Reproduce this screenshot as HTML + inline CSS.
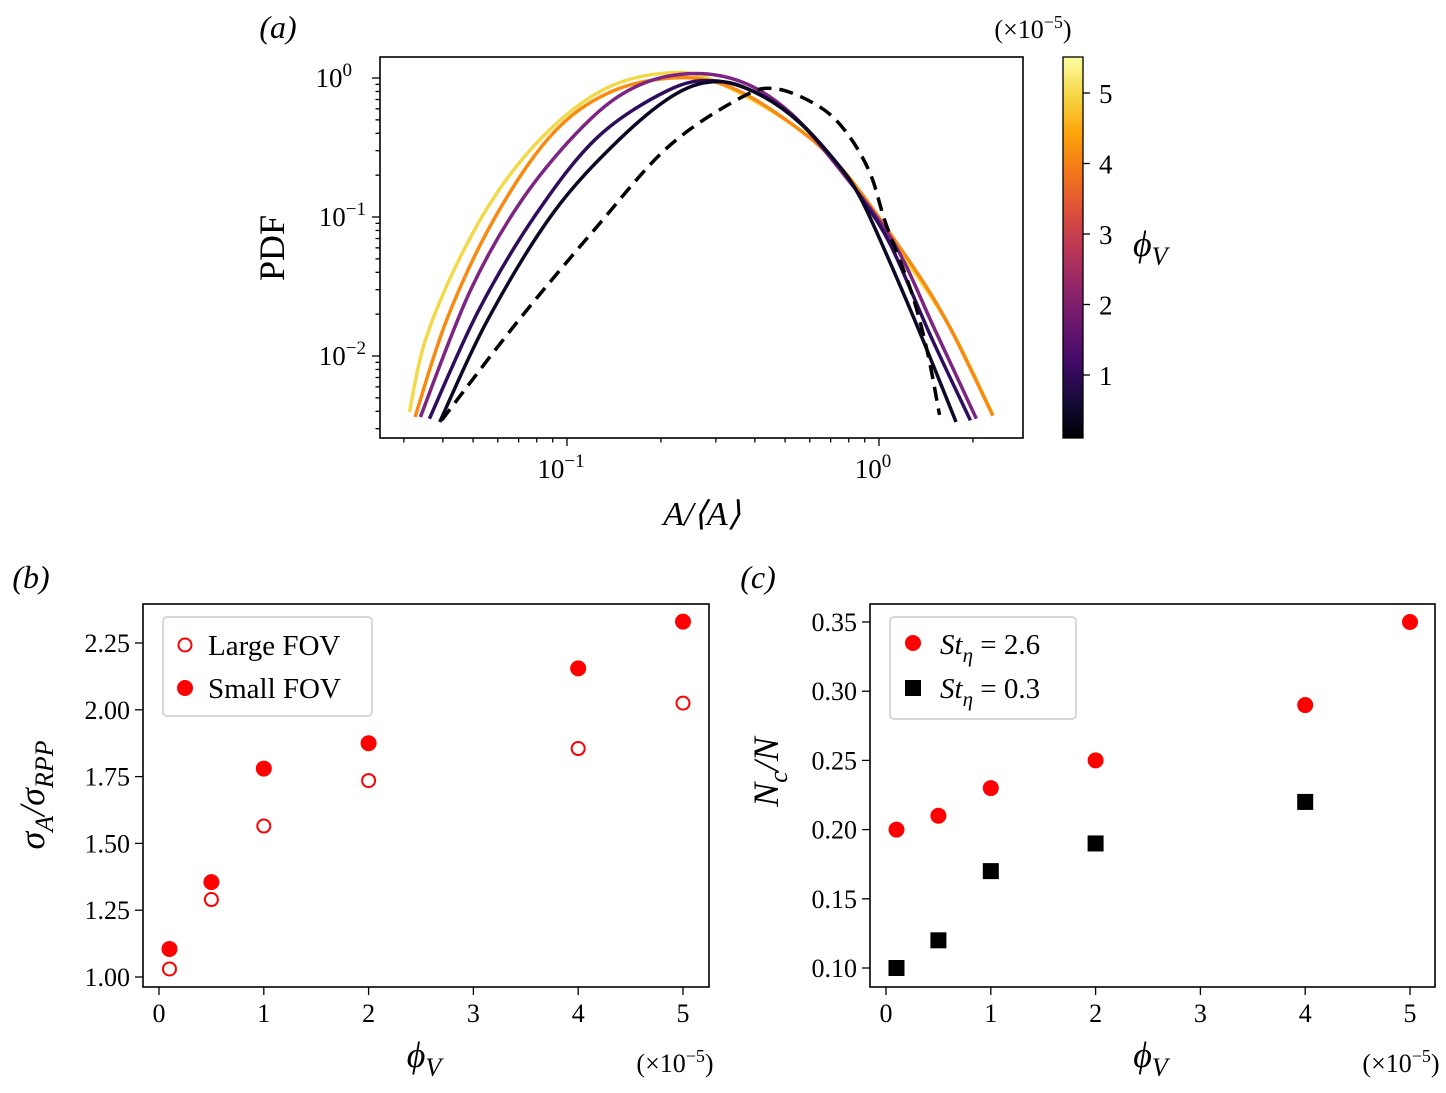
<!DOCTYPE html>
<html><head><meta charset="utf-8"><style>
body{margin:0;background:#fff}
svg{display:block;font-family:"Liberation Serif",serif}
</style></head><body>
<svg id="fig" width="1446" height="1093" viewBox="0 0 1446 1093" xmlns="http://www.w3.org/2000/svg">
<defs>
<linearGradient id="inferno" x1="0" y1="1" x2="0" y2="0">
<stop offset="0" stop-color="#000004"/><stop offset="0.1" stop-color="#160b39"/><stop offset="0.2" stop-color="#420a68"/><stop offset="0.3" stop-color="#6a176e"/><stop offset="0.4" stop-color="#932667"/><stop offset="0.5" stop-color="#bc3754"/><stop offset="0.6" stop-color="#dd513a"/><stop offset="0.7" stop-color="#f37819"/><stop offset="0.8" stop-color="#fca50a"/><stop offset="0.9" stop-color="#f6d746"/><stop offset="1" stop-color="#fcffa4"/>
</linearGradient>
</defs>
<g id="pa"></g>
<g id="pb"></g>
<g id="pc"></g>
</svg>
<script>
// ---- Panel (a) data (log10 values) ----
const curveLabels = ["phi-5","phi-4","phi-2","phi-1","phi-0.1","random-poisson"];
const curveColors = ["#f2d94a","#f88a12","#7e2482","#2e0d5c","#0c0826","#000"];
const logA_5 = [-1.505,-1.454,-1.342,-1.204,-1.046,-0.877,-0.703,-0.545,-0.281,-0.115,0.049,0.221,0.365];
const logP_5 = [-2.403,-1.887,-1.288,-0.760,-0.353,-0.077,0.031,-0.005,-0.329,-0.664,-1.192,-1.768,-2.424];
const logA_4 = [-1.487,-1.382,-1.230,-1.046,-0.861,-0.650,-0.478,-0.281,-0.115,0.088,0.221,0.365];
const logP_4 = [-2.439,-1.719,-1.0,-0.401,-0.101,0.002,-0.065,-0.329,-0.664,-1.288,-1.768,-2.43];
const logA_2 = [-1.470,-1.309,-1.138,-0.940,-0.782,-0.611,-0.439,-0.281,-0.115,0.049,0.180,0.312];
const logP_2 = [-2.439,-1.525,-0.856,-0.329,-0.065,0.031,-0.029,-0.257,-0.688,-1.192,-1.815,-2.451];
const logA_1 = [-1.441,-1.283,-1.098,-0.901,-0.676,-0.530,-0.381,-0.253,-0.125,-0.061,0.035,0.167,0.293];
const logP_1 = [-2.451,-1.671,-0.976,-0.424,-0.089,-0.020,-0.118,-0.320,-0.640,-0.850,-1.192,-1.863,-2.463];
const logA_01 = [-1.408,-1.255,-1.046,-0.835,-0.650,-0.510,-0.381,-0.253,-0.125,-0.061,0.009,0.128,0.247];
const logP_01 = [-2.475,-1.743,-0.976,-0.448,-0.113,-0.026,-0.122,-0.324,-0.640,-0.856,-1.192,-1.815,-2.475];
const logA_rpp = [-1.402,-1.164,-0.914,-0.676,-0.439,-0.327,-0.189,-0.103,-0.029,0.022,0.102,0.154,0.194];
const logP_rpp = [-2.463,-1.768,-1.096,-0.496,-0.137,-0.079,-0.209,-0.396,-0.683,-1.048,-1.527,-1.959,-2.424];
const cbTicks = [1,2,3,4,5];
// ---- Panel (b) data ----
const phiB = [0.1,0.5,1,2,4,5];
const largeFOV = [1.03,1.29,1.565,1.735,1.855,2.025];
const smallFOV = [1.105,1.355,1.78,1.875,2.155,2.33];
const bYTicks = ["1.00","1.25","1.50","1.75","2.00","2.25"];
// ---- Panel (c) data ----
const phiC1 = [0.1,0.5,1,2,4,5];
const st26 = [0.20,0.21,0.23,0.25,0.29,0.35];
const phiC2 = [0.1,0.5,1,2,4];
const st03 = [0.10,0.12,0.17,0.19,0.22];
const cYTicks = ["0.10","0.15","0.20","0.25","0.30","0.35"];
const xTicks = [0,1,2,3,4,5];

const NS="http://www.w3.org/2000/svg";
function mk(parent,tag,attrs,text){const e=document.createElementNS(NS,tag);for(const k in attrs)e.setAttribute(k,attrs[k]);if(text!==undefined)e.textContent=text;parent.appendChild(e);return e;}

// ===== Panel A =====
const pa=document.getElementById('pa');
const aL=380,aR=1023,aT=57,aB=438;
const ax=lx=>879+312*lx, ay=ly=>78-139*ly;
const series=[[logA_5,logP_5],[logA_4,logP_4],[logA_2,logP_2],[logA_1,logP_1],[logA_01,logP_01],[logA_rpp,logP_rpp]];
series.forEach((s,i)=>{
  const pts=s[0].map((v,j)=>[ax(v),ay(s[1][j])]);
  let d="M"+pts[0][0]+","+pts[0][1];
  for(let j=0;j<pts.length-1;j++){const p0=pts[Math.max(0,j-1)],p1=pts[j],p2=pts[j+1],p3=pts[Math.min(pts.length-1,j+2)];
    d+=` C${p1[0]+(p2[0]-p0[0])/6},${p1[1]+(p2[1]-p0[1])/6} ${p2[0]-(p3[0]-p1[0])/6},${p2[1]-(p3[1]-p1[1])/6} ${p2[0]},${p2[1]}`;}
  const p=mk(pa,'path',{d:d,fill:'none',stroke:curveColors[i],'stroke-width':3.5,'stroke-dasharray':i==5?'14,8':'none'});
  
  
});
mk(pa,'rect',{x:aL,y:aT,width:aR-aL,height:aB-aT,fill:'none',stroke:'#000','stroke-width':1.6,});
for(let e=-2;e<=0;e++){for(let m=1;m<10;m++){const lv=e+Math.log10(m);const x=ax(lv);if(x<aL||x>aR)continue;
  mk(pa,'line',{x1:x,y1:aB,x2:x,y2:aB+(m==1?8:4.5),stroke:'#000','stroke-width':1.3});}}
[-1,0].forEach(e=>{const t=mk(pa,'text',{x:ax(e)-6,y:478,'font-size':27,'text-anchor':'middle',},"10");mk(t,'tspan',{dy:-11,'font-size':19},e==-1?"−1":"0");});
for(let e=-3;e<=0;e++){for(let m=1;m<10;m++){const lv=e+Math.log10(m);const y=ay(lv);if(y<aT||y>aB)continue;
  mk(pa,'line',{x1:aL,y1:y,x2:aL-(m==1?8:4.5),y2:y,stroke:'#000','stroke-width':1.3});}}
[[0,"0"],[-1,"−1"],[-2,"−2"]].forEach(([e,s])=>{const t=mk(pa,'text',{x:e==0?352:366,y:ay(e)+9,'font-size':27,'text-anchor':'end',},"10");mk(t,'tspan',{dy:-11,'font-size':19},s);});
mk(pa,'text',{x:702,y:525,'font-size':34,'text-anchor':'middle','font-style':'italic',},"A/⟨A⟩");
mk(pa,'text',{x:0,y:0,'font-size':36,'text-anchor':'middle',transform:'translate(284,248) rotate(-90)',},"PDF");
mk(pa,'text',{x:278,y:38,'font-size':32,'font-style':'italic','text-anchor':'middle',},"(a)");
const cbT=57,cbB=438,cbScale=v=>375-(v-1)*70.5;
mk(pa,'rect',{x:1063,y:cbT,width:20,height:cbB-cbT,fill:'url(#inferno)',stroke:'#000','stroke-width':1.3,});
cbTicks.forEach(v=>{const y=cbScale(v);mk(pa,'line',{x1:1083,y1:y,x2:1090,y2:y,stroke:'#000','stroke-width':1.3});
  mk(pa,'text',{x:1099,y:y+10,'font-size':27,},String(v));});
const ce=mk(pa,'text',{x:1033,y:38,'font-size':26,'text-anchor':'middle',},"(×10");mk(ce,'tspan',{dy:-10,'font-size':18},"−5");mk(ce,'tspan',{dy:10,'font-size':26},")");
const cl=mk(pa,'text',{x:1133,y:256,'font-size':36,'font-style':'italic',},"ϕ");mk(cl,'tspan',{dy:9,'font-size':26},"V");

function panel(g,L,R,T,B,xs,ys,yTicks,label){
  mk(g,'rect',{x:L,y:T,width:R-L,height:B-T,fill:'none',stroke:'#000','stroke-width':1.6,});
  xTicks.forEach(v=>{const x=xs(v);mk(g,'line',{x1:x,y1:B,x2:x,y2:B+8,stroke:'#000','stroke-width':1.3});
    mk(g,'text',{x:x,y:B+35,'font-size':26,'text-anchor':'middle',},String(v));});
  yTicks.forEach(s=>{const y=ys(parseFloat(s));mk(g,'line',{x1:L,y1:y,x2:L-8,y2:y,stroke:'#000','stroke-width':1.3});
    mk(g,'text',{x:L-13,y:y+9,'font-size':26,'text-anchor':'end',},s);});
  const xt=mk(g,'text',{x:(L+R)/2-2,y:B+80,'font-size':36,'font-style':'italic','text-anchor':'middle',},"ϕ");mk(xt,'tspan',{dy:9,'font-size':26},"V");
  const ex=mk(g,'text',{x:R-34,y:B+85,'font-size':26,'text-anchor':'middle',},"(×10");mk(ex,'tspan',{dy:-10,'font-size':18},"−5");mk(ex,'tspan',{dy:10,'font-size':26},")");
  mk(g,'text',{x:L-112,y:588,'font-size':32,'font-style':'italic','text-anchor':'middle',},label);
}
const pb=document.getElementById('pb');
const bL=143,bR=709,bT=604,bB=987;
const bx=v=>159+104.8*v, by=v=>977-(v-1)*267.2;
panel(pb,bL,bR,bT,bB,bx,by,bYTicks,"(b)");
const byl=mk(pb,'text',{x:0,y:0,'font-size':36,'font-style':'italic','text-anchor':'middle',transform:'translate(44,795) rotate(-90)',},"σ");
mk(byl,'tspan',{dy:9,'font-size':26},"A");mk(byl,'tspan',{dy:-9},"/σ");mk(byl,'tspan',{dy:9,'font-size':26},"RPP");
phiB.forEach((p,i)=>{
  const c=mk(pb,'circle',{cx:bx(p),cy:by(largeFOV[i]),r:6.5,fill:'none',stroke:'#f00','stroke-width':2});
  
  
  const f=mk(pb,'circle',{cx:bx(p),cy:by(smallFOV[i]),r:8,fill:'#f00'});
  
  
});
const lb=mk(pb,'g',{});
mk(lb,'rect',{x:163,y:617,width:209,height:99,rx:4,fill:'#fff',stroke:'#ccc','stroke-width':1.5});
mk(lb,'circle',{cx:185,cy:645,r:6.5,fill:'none',stroke:'#f00','stroke-width':2});
mk(lb,'text',{x:208,y:655,'font-size':29,},"Large FOV");
mk(lb,'circle',{cx:185,cy:688,r:8,fill:'#f00'});
mk(lb,'text',{x:208,y:698,'font-size':29,},"Small FOV");

const pc=document.getElementById('pc');
const cL=870,cR=1435,cT=604,cB=987;
const cx=v=>886+104.8*v, cy=v=>968-(v-0.10)*1384;
panel(pc,cL,cR,cT,cB,cx,cy,cYTicks,"(c)");
const cyl=mk(pc,'text',{x:0,y:0,'font-size':36,'font-style':'italic','text-anchor':'middle',transform:'translate(778,772) rotate(-90)',},"N");
mk(cyl,'tspan',{dy:9,'font-size':26},"c");mk(cyl,'tspan',{dy:-9},"/N");
phiC1.forEach((p,i)=>{const c=mk(pc,'circle',{cx:cx(p),cy:cy(st26[i]),r:8,fill:'#f00'});
  
  });
phiC2.forEach((p,i)=>{const s=mk(pc,'rect',{x:cx(p)-8,y:cy(st03[i])-8,width:16,height:16,fill:'#000'});
  
  });
const lc=mk(pc,'g',{});
mk(lc,'rect',{x:890,y:617,width:186,height:102,rx:4,fill:'#fff',stroke:'#ccc','stroke-width':1.5});
mk(lc,'circle',{cx:913,cy:643,r:8,fill:'#f00'});
const t1=mk(lc,'text',{x:940,y:654,'font-size':29,'font-style':'italic',},"St");mk(t1,'tspan',{dy:8,'font-size':21},"η");mk(t1,'tspan',{dy:-8,'font-style':'normal'}," = 2.6");
mk(lc,'rect',{x:905,y:680,width:16,height:16,fill:'#000'});
const t2=mk(lc,'text',{x:940,y:698,'font-size':29,'font-style':'italic',},"St");mk(t2,'tspan',{dy:8,'font-size':21},"η");mk(t2,'tspan',{dy:-8,'font-style':'normal'}," = 0.3");
</script>
</body></html>
